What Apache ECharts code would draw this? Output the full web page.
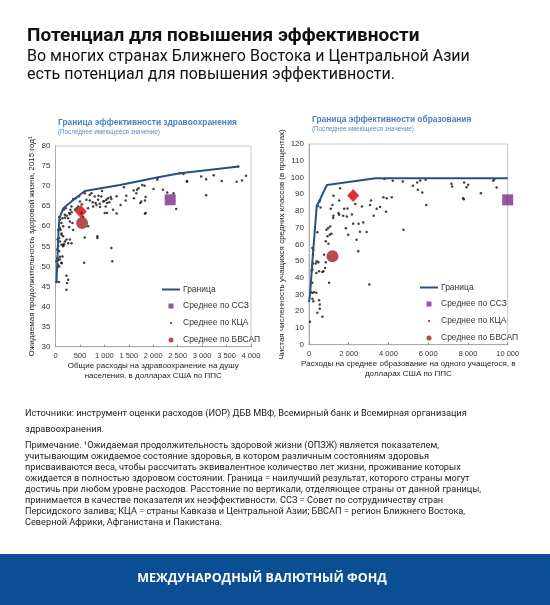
<!DOCTYPE html>
<html><head><meta charset="utf-8">
<script src="https://cdn.jsdelivr.net/npm/echarts@6/dist/echarts.min.js"></script>
<style>html,body{margin:0;padding:0;background:#fff}#c{width:550px;height:605px}</style>
</head><body><div id="c"></div>
<script>
// ---------- data ----------
const healthFrontier = [[20,46],[55,57],[80,62],[160,64.5],[400,66.9],[600,68.8],[1320,70.3],[2100,72.2],[2550,73.2],[3750,74.9]];
const healthCountries = [[3741,74.9],[3898,72.6],[3816,71.4],[3707,71.1],[3401,71.3],[3238,72.7],[3082,71.7],[2980,72.4],[3082,67.7],[2687,71.3],[2694,71.1],[2619,73.0],[2537,73.2],[2415,68.2],[2469,64.3],[2286,68.4],[2197,69.1],[2095,72.0],[2082,71.6],[2007,69.3],[1823,70.1],[1844,67.3],[1830,66.4],[1755,66.2],[1735,65.8],[1667,69.1],[1653,68.2],[1605,67.0],[1449,67.6],[1435,66.4],[1333,65.3],[1401,69.7],[1776,70.3],[1830,63.1],[1844,63.3],[1129,67.3],[1143,66.8],[1075,67.0],[1041,66.6],[1054,65.8],[1027,64.9],[939,67.4],[973,66.2],[905,65.6],[871,66.6],[837,65.3],[803,67.4],[769,64.9],[701,66.4],[667,64.5],[633,66.6],[599,68.2],[735,68.2],[952,68.8],[1007,63.3],[1054,63.3],[1177,64.1],[1143,54.6],[1163,51.3],[857,57.5],[857,57.1],[599,57.2],[585,50.9],[667,60.0],[565,62.3],[531,63.3],[463,64.9],[415,67.0],[361,66.8],[327,64.9],[306,64.1],[279,63.3],[259,62.0],[293,61.2],[347,60.8],[279,59.8],[361,59.1],[293,56.7],[327,55.8],[259,55.8],[224,56.7],[211,64.5],[170,64.1],[143,62.0],[122,60.8],[156,60.0],[102,59.1],[122,57.9],[156,57.5],[75,57.1],[88,56.2],[122,55.4],[156,55.0],[54,55.0],[34,54.2],[75,53.8],[143,52.5],[88,51.7],[41,52.1],[20,51.3],[54,50.4],[75,50.0],[34,49.6],[122,50.9],[224,47.7],[259,46.7],[238,45.9],[224,44.2],[68,46.1],[20,46.1],[41,56.7],[54,59.1],[88,61.6],[75,62.3],[190,62.9],[37,52.0],[58,51.6],[126,50.8],[92,52.4],[160,55.4],[174,55.5],[194,56.2],[126,58.2],[92,59.5],[194,62.1],[228,62.6],[296,63.0],[331,63.5],[399,64.1],[433,64.5],[500,66.2],[540,65.5],[480,67.5],[700,67.8],[760,66.0],[820,65.8],[880,67.6],[910,64.8],[1000,66.3],[1100,66.0],[1250,67.5],[1600,68.9],[1700,69.5],[1250,63.2]];
const healthGCC = [[2347,66.6]];
const healthCCA = [[517,63.7]];
const healthMENAP = [[544,60.8]];

const eduFrontier = [[0,25.5],[60,31],[170,50],[390,83],[560,87],[900,95.5],[3350,99.5],[10000,99.5]];
const eduCountries = [[51,13.7],[169,31.0],[84,31.4],[253,31.4],[169,27.4],[219,26.0],[371,31.0],[421,19.1],[540,21.5],[540,24.0],[506,26.6],[674,16.7],[169,37.0],[135,44.3],[169,44.9],[202,48.5],[337,48.5],[388,49.9],[472,49.3],[371,42.9],[506,43.9],[674,43.5],[725,43.9],[809,45.9],[843,49.3],[202,53.8],[219,56.8],[169,57.8],[759,53.8],[843,61.8],[978,60.4],[927,64.8],[1045,65.8],[877,68.7],[961,69.7],[1062,70.7],[1130,66.4],[421,67.2],[1012,37.0],[1180,83.6],[1096,81.3],[1231,77.1],[1214,75.7],[1231,89.0],[1517,86.2],[1484,78.7],[1517,77.7],[1568,93.6],[1720,77.1],[1770,81.3],[1939,81.5],[1905,76.7],[1855,69.7],[1973,65.8],[2158,77.9],[2225,72.3],[2327,84.2],[2394,62.8],[2495,72.3],[2563,67.6],[2478,55.8],[2664,82.7],[2731,73.1],[2900,67.4],[3069,83.6],[3119,86.2],[3035,36.0],[3254,77.1],[3406,81.3],[3574,82.3],[3743,88.2],[3912,87.6],[3878,79.5],[4164,88.2],[3794,99.1],[4215,98.0],[4721,97.6],[4754,68.7],[5227,95.0],[5446,97.0],[5480,92.6],[5598,98.2],[5699,91.0],[5868,98.6],[5901,83.6],[7166,96.2],[7200,94.6],[7756,87.6],[7789,87.0],[7807,97.0],[7925,94.2],[8009,95.6],[8649,90.6],[9273,98.0],[9324,98.9],[9442,94.0],[520,85.5],[560,86.5],[580,82.0],[450,83.0]];
const eduGCC = [[10000,86.6]];
const eduCCA = [[2225,89.2]];
const eduMENAP = [[1180,52.9]];

const healthXTicks = [0, 4000, 500];
const healthYTicks = [30, 80, 5];
const eduXTicks = [0, 10000, 2000];
const eduYTicks = [0, 120, 10];

const seriesNames = ['Граница', 'Среднее по ССЗ', 'Среднее по КЦА', 'Среднее по БВСАП'];

const footerLines = [
 'Источники: инструмент оценки расходов (ИОР) ДБВ МВФ, Всемирный банк и Всемирная организация',
 'здравоохранения.',
 'Примечание. ¹Ожидаемая продолжительность здоровой жизни (ОПЗЖ) является показателем,',
 'учитывающим ожидаемое состояние здоровья, в котором различным состояниям здоровья',
 'присваиваются веса, чтобы рассчитать эквивалентное количество лет жизни, проживание которых',
 'ожидается в полностью здоровом состоянии. Граница = наилучший результат, которого страны могут',
 'достичь при любом уровне расходов. Расстояние по вертикали, отделяющее страны от данной границы,',
 'принимается в качестве показателя их неэффективности. ССЗ = Совет по сотрудничеству стран',
 'Персидского залива; КЦА = страны Кавказа и Центральной Азии; БВСАП = регион Ближнего Востока,',
 'Северной Африки, Афганистана и Пакистана.'
];

// ---------- styles ----------
const NAVY = '#2b4f85', PURPLE = '#7a2a8c', RED = '#d00000', DRED = '#a3221d';
const F = 'Liberation Sans, Arial, sans-serif';
const fmt = v => String(v).replace(/\B(?=(\d{3})+(?!\d))/g, ' ');

function xAxis(idx, t, name){
  return {gridIndex: idx, type:'value', min:t[0], max:t[1], interval:t[2],
    name: name, nameLocation:'middle', nameGap: 14,
    nameTextStyle:{fontFamily:F, fontSize:8, color:'#222', lineHeight:10},
    axisLine:{show:true, lineStyle:{color:'#aaa'}}, splitLine:{show:false},
    axisTick:{show:true, inside:true, length:2, lineStyle:{color:'#888'}},
    axisLabel:{fontFamily:F, fontSize:7.5, color:'#333', margin:5, formatter: fmt}};
}
function yAxis(idx, t, name, gap){
  return {gridIndex: idx, type:'value', min:t[0], max:t[1], interval:t[2],
    name: name, nameLocation:'middle', nameGap: gap, nameRotate:90,
    nameTextStyle:{fontFamily:F, fontSize:8, color:'#222'},
    axisLine:{show:true, lineStyle:{color:'#aaa'}}, splitLine:{show:false},
    axisTick:{show:false},
    axisLabel:{fontFamily:F, fontSize:8, color:'#333', margin:5}};
}
const icons = {
  'Граница': 'path://M0,4L18,4L18,6L0,6Z',
  'Среднее по ССЗ': 'path://M0,0M18,10M6.5,2.5L11.5,2.5L11.5,7.5L6.5,7.5Z',
  'Среднее по КЦА': 'path://M0,0M18,10M8,4L10,4L10,6L8,6Z',
  'Среднее по БВСАП': 'path://M0,0M18,10M6.5,5A2.5,2.5 0 1,0 11.5,5A2.5,2.5 0 1,0 6.5,5Z'
};
function legend(left, top){
  return {left: left, top: top, orient:'vertical', itemGap:7, itemWidth:18, itemHeight:10,
    selectedMode:false,
    textStyle:{fontFamily:F, fontSize:8.5, color:'#333', padding:[0,0,0,-2]},
    data: seriesNames.map(n => ({name:n, icon: icons[n]}))};
}
function seriesFor(idx, frontier, countries, gcc, cca, menap){
  return [
    {name:'Граница', type:'line', xAxisIndex:idx, yAxisIndex:idx, data:frontier, symbol:'none',
      lineStyle:{color:NAVY, width:2}, itemStyle:{color:NAVY}, z:3, silent:true},
    {name:'countries', type:'scatter', xAxisIndex:idx, yAxisIndex:idx, data:countries,
      symbol:'circle', symbolSize:2.5, itemStyle:{color:'#111'}, z:2, silent:true},
    {name:'Среднее по ССЗ', type:'scatter', xAxisIndex:idx, yAxisIndex:idx, data:gcc, clip:false,
      symbol:'rect', symbolSize:11, itemStyle:{color:PURPLE}, z:4, silent:true},
    {name:'Среднее по КЦА', type:'scatter', xAxisIndex:idx, yAxisIndex:idx, data:cca,
      symbol:'diamond', symbolSize:[12,13], itemStyle:{color:RED}, z:4, silent:true},
    {name:'Среднее по БВСАП', type:'scatter', xAxisIndex:idx, yAxisIndex:idx, data:menap,
      symbol:'circle', symbolSize:12, itemStyle:{color:DRED}, z:4, silent:true}
  ];
}
function txt(x, y, text, font, fill, align){
  return {type:'text', x:x, y:y, silent:true,
    style:{text:text, font:font, fill:fill, textAlign: align||'left', textVerticalAlign:'middle'}};
}

const graphics = [
  txt(27, 36, 'Потенциал для повышения эффективности', 'bold 19px Roboto, sans-serif', '#111'),
  txt(27, 57, 'Во многих странах Ближнего Востока и Центральной Азии', '16px Roboto, sans-serif', '#111'),
  txt(27, 75, 'есть потенциал для повышения эффективности.', '16px Roboto, sans-serif', '#111'),
  txt(58, 123, 'Граница эффективности здравоохранения', 'bold 8.4px ' + F, '#4a7fbf'),
  txt(58, 132.5, '(Последнее имеющееся значение)', '6.3px ' + F, '#5b8ac6'),
  txt(312, 120, 'Граница эффективности образования', 'bold 8.4px ' + F, '#4a7fbf'),
  txt(312, 129.5, '(Последнее имеющееся значение)', '6.3px ' + F, '#5b8ac6'),
  {type:'rect', left:0, top:554, shape:{width:550, height:51}, style:{fill:'#0b4e93'}, silent:true},
  txt(262, 578, 'МЕЖДУНАРОДНЫЙ ВАЛЮТНЫЙ ФОНД', 'bold 12.5px Open Sans, sans-serif', '#ffffff', 'center')
];
const footerY = [414, 430, 445.5, 456.5, 467.5, 478.5, 489.5, 500.5, 511.5, 522.5];
footerLines.forEach((l, i) => graphics.push(txt(25, footerY[i], l, '9.2px Roboto, sans-serif', '#222')));

const option = {
  animation:false,
  grid:[
    {left:55.5, top:146, width:195.5, height:200.7, show:true, borderColor:'#c8c8c8', borderWidth:1, containLabel:false},
    {left:309, top:144, width:198.7, height:200.7, show:true, borderColor:'#c8c8c8', borderWidth:1, containLabel:false}
  ],
  xAxis:[
    xAxis(0, healthXTicks, 'Общие расходы на здравоохранение на душу\nнаселения, в долларах США по ППС'),
    xAxis(1, eduXTicks, 'Расходы на среднее образование на одного учащегося, в\nдолларах США по ППС')
  ],
  yAxis:[
    yAxis(0, healthYTicks, 'Ожидаемая продолжительность здоровой жизни, 2015 год¹', 20),
    yAxis(1, eduYTicks, 'Чистая численность учащихся средних классов (в процентах)', 23)
  ],
  legend:[legend(157, 280), legend(415, 278)],
  series:[].concat(
    seriesFor(0, healthFrontier, healthCountries, healthGCC, healthCCA, healthMENAP),
    seriesFor(1, eduFrontier, eduCountries, eduGCC, eduCCA, eduMENAP)
  ),
  graphic: graphics
};
const chart = echarts.init(document.getElementById('c'), null, {renderer:'canvas'});
chart.setOption(option);
</script></body></html>
